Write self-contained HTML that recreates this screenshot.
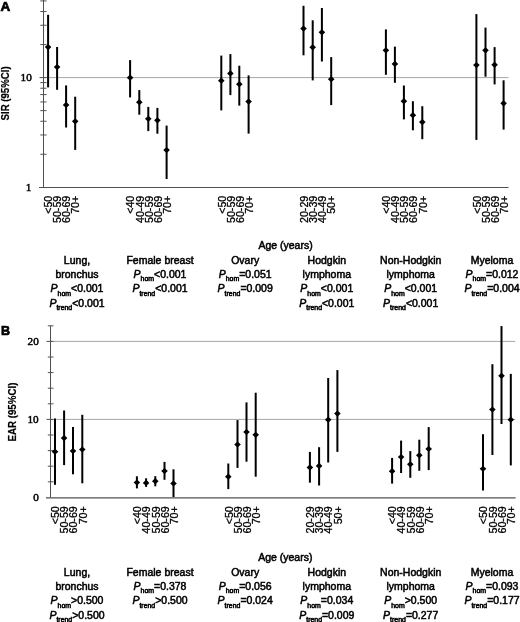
<!DOCTYPE html><html><head><meta charset="utf-8"><style>html,body{margin:0;padding:0;background:#fff;}svg{display:block;filter:blur(0.25px);}text{stroke:#000;stroke-width:0.5px;}</style></head><body>
<svg width="520" height="622" viewBox="0 0 520 622" font-family='"Liberation Sans", sans-serif' fill="#000">
<rect width="520" height="622" fill="#fff"/>
<line x1="44.0" y1="77.60" x2="508.5" y2="77.60" stroke="#a6a6a6" stroke-width="1"/>
<line x1="43.5" y1="0" x2="43.5" y2="187.5" stroke="#505050" stroke-width="1"/>
<line x1="39" y1="187.5" x2="508.5" y2="187.5" stroke="#505050" stroke-width="1"/>
<line x1="40.3" y1="154.28" x2="46.5" y2="154.28" stroke="#505050" stroke-width="1"/>
<line x1="40.3" y1="134.96" x2="46.5" y2="134.96" stroke="#505050" stroke-width="1"/>
<line x1="40.3" y1="121.25" x2="46.5" y2="121.25" stroke="#505050" stroke-width="1"/>
<line x1="40.3" y1="110.62" x2="46.5" y2="110.62" stroke="#505050" stroke-width="1"/>
<line x1="40.3" y1="101.94" x2="46.5" y2="101.94" stroke="#505050" stroke-width="1"/>
<line x1="40.3" y1="94.59" x2="46.5" y2="94.59" stroke="#505050" stroke-width="1"/>
<line x1="40.3" y1="88.23" x2="46.5" y2="88.23" stroke="#505050" stroke-width="1"/>
<line x1="40.3" y1="82.62" x2="46.5" y2="82.62" stroke="#505050" stroke-width="1"/>
<line x1="39.5" y1="77.60" x2="46.5" y2="77.60" stroke="#505050" stroke-width="1"/>
<line x1="40.3" y1="44.58" x2="46.5" y2="44.58" stroke="#505050" stroke-width="1"/>
<line x1="40.3" y1="25.26" x2="46.5" y2="25.26" stroke="#505050" stroke-width="1"/>
<line x1="40.3" y1="11.55" x2="46.5" y2="11.55" stroke="#505050" stroke-width="1"/>
<line x1="40.3" y1="0.92" x2="46.5" y2="0.92" stroke="#505050" stroke-width="1"/>
<text x="31.8" y="81.20" text-anchor="end" font-family='"Liberation Serif", serif' font-size="11.2">10</text>
<text x="31.3" y="191.10" text-anchor="end" font-family='"Liberation Serif", serif' font-size="11.2">1</text>
<text x="0.5" y="10.6" font-weight="bold" font-size="13.5" style="stroke-width:0.7px">A</text>
<text transform="translate(8.5 93.4) rotate(-90)" text-anchor="middle" font-weight="bold" font-size="10.4" textLength="54" lengthAdjust="spacingAndGlyphs" style="stroke-width:0.2px">SIR (95%CI)</text>
<rect x="47.10" y="14.80" width="2.0" height="72.60" fill="#000"/>
<path d="M44.80 47.10L48.10 44.00L51.40 47.10L48.10 50.20Z" fill="#000"/>
<rect x="56.10" y="47.00" width="2.0" height="42.80" fill="#000"/>
<path d="M53.80 67.10L57.10 64.00L60.40 67.10L57.10 70.20Z" fill="#000"/>
<rect x="65.10" y="85.40" width="2.0" height="42.10" fill="#000"/>
<path d="M62.80 104.90L66.10 101.80L69.40 104.90L66.10 108.00Z" fill="#000"/>
<rect x="74.20" y="96.70" width="2.0" height="53.20" fill="#000"/>
<path d="M71.90 121.30L75.20 118.20L78.50 121.30L75.20 124.40Z" fill="#000"/>
<rect x="129.10" y="60.10" width="2.0" height="37.30" fill="#000"/>
<path d="M126.80 77.70L130.10 74.60L133.40 77.70L130.10 80.80Z" fill="#000"/>
<rect x="138.30" y="90.10" width="2.0" height="24.60" fill="#000"/>
<path d="M136.00 102.20L139.30 99.10L142.60 102.20L139.30 105.30Z" fill="#000"/>
<rect x="147.30" y="106.90" width="2.0" height="24.20" fill="#000"/>
<path d="M145.00 118.80L148.30 115.70L151.60 118.80L148.30 121.90Z" fill="#000"/>
<rect x="156.40" y="107.90" width="2.0" height="25.80" fill="#000"/>
<path d="M154.10 120.30L157.40 117.20L160.70 120.30L157.40 123.40Z" fill="#000"/>
<rect x="165.60" y="125.60" width="2.0" height="53.40" fill="#000"/>
<path d="M163.30 150.10L166.60 147.00L169.90 150.10L166.60 153.20Z" fill="#000"/>
<rect x="220.30" y="55.60" width="2.0" height="54.80" fill="#000"/>
<path d="M218.00 80.70L221.30 77.60L224.60 80.70L221.30 83.80Z" fill="#000"/>
<rect x="229.40" y="54.10" width="2.0" height="41.00" fill="#000"/>
<path d="M227.10 73.40L230.40 70.30L233.70 73.40L230.40 76.50Z" fill="#000"/>
<rect x="238.30" y="65.70" width="2.0" height="39.90" fill="#000"/>
<path d="M236.00 84.20L239.30 81.10L242.60 84.20L239.30 87.30Z" fill="#000"/>
<rect x="247.60" y="75.40" width="2.0" height="58.20" fill="#000"/>
<path d="M245.30 101.60L248.60 98.50L251.90 101.60L248.60 104.70Z" fill="#000"/>
<rect x="302.50" y="5.80" width="2.0" height="49.50" fill="#000"/>
<path d="M300.20 28.60L303.50 25.50L306.80 28.60L303.50 31.70Z" fill="#000"/>
<rect x="311.70" y="20.30" width="2.0" height="60.10" fill="#000"/>
<path d="M309.40 47.30L312.70 44.20L316.00 47.30L312.70 50.40Z" fill="#000"/>
<rect x="320.90" y="8.00" width="2.0" height="53.50" fill="#000"/>
<path d="M318.60 32.30L321.90 29.20L325.20 32.30L321.90 35.40Z" fill="#000"/>
<rect x="330.20" y="57.10" width="2.0" height="48.00" fill="#000"/>
<path d="M327.90 79.20L331.20 76.10L334.50 79.20L331.20 82.30Z" fill="#000"/>
<rect x="384.90" y="29.40" width="2.0" height="45.40" fill="#000"/>
<path d="M382.60 50.30L385.90 47.20L389.20 50.30L385.90 53.40Z" fill="#000"/>
<rect x="393.90" y="46.60" width="2.0" height="36.20" fill="#000"/>
<path d="M391.60 63.90L394.90 60.80L398.20 63.90L394.90 67.00Z" fill="#000"/>
<rect x="402.90" y="85.50" width="2.0" height="33.90" fill="#000"/>
<path d="M400.60 101.20L403.90 98.10L407.20 101.20L403.90 104.30Z" fill="#000"/>
<rect x="411.90" y="101.20" width="2.0" height="29.10" fill="#000"/>
<path d="M409.60 115.20L412.90 112.10L416.20 115.20L412.90 118.30Z" fill="#000"/>
<rect x="421.30" y="106.20" width="2.0" height="33.00" fill="#000"/>
<path d="M419.00 122.10L422.30 119.00L425.60 122.10L422.30 125.20Z" fill="#000"/>
<rect x="475.40" y="14.10" width="2.0" height="125.80" fill="#000"/>
<path d="M473.10 65.10L476.40 62.00L479.70 65.10L476.40 68.20Z" fill="#000"/>
<rect x="484.50" y="27.60" width="2.0" height="49.10" fill="#000"/>
<path d="M482.20 50.30L485.50 47.20L488.80 50.30L485.50 53.40Z" fill="#000"/>
<rect x="493.60" y="47.10" width="2.0" height="37.30" fill="#000"/>
<path d="M491.30 64.80L494.60 61.70L497.90 64.80L494.60 67.90Z" fill="#000"/>
<rect x="502.60" y="80.30" width="2.0" height="49.30" fill="#000"/>
<path d="M500.30 103.30L503.60 100.20L506.90 103.30L503.60 106.40Z" fill="#000"/>
<text transform="translate(52.38 195.70) rotate(-90) scale(1 1.04)" text-anchor="end" font-size="10.7" style="stroke-width:0.3px">&lt;50</text>
<text transform="translate(61.38 195.70) rotate(-90) scale(1 1.04)" text-anchor="end" font-size="10.7" style="stroke-width:0.3px">50-59</text>
<text transform="translate(70.38 195.70) rotate(-90) scale(1 1.04)" text-anchor="end" font-size="10.7" style="stroke-width:0.3px">60-69</text>
<text transform="translate(79.48 195.70) rotate(-90) scale(1 1.04)" text-anchor="end" font-size="10.7" style="stroke-width:0.3px">70+</text>
<text transform="translate(134.38 195.70) rotate(-90) scale(1 1.04)" text-anchor="end" font-size="10.7" style="stroke-width:0.3px">&lt;40</text>
<text transform="translate(143.58 195.70) rotate(-90) scale(1 1.04)" text-anchor="end" font-size="10.7" style="stroke-width:0.3px">40-49</text>
<text transform="translate(152.58 195.70) rotate(-90) scale(1 1.04)" text-anchor="end" font-size="10.7" style="stroke-width:0.3px">50-59</text>
<text transform="translate(161.68 195.70) rotate(-90) scale(1 1.04)" text-anchor="end" font-size="10.7" style="stroke-width:0.3px">60-69</text>
<text transform="translate(170.88 195.70) rotate(-90) scale(1 1.04)" text-anchor="end" font-size="10.7" style="stroke-width:0.3px">70+</text>
<text transform="translate(225.58 195.70) rotate(-90) scale(1 1.04)" text-anchor="end" font-size="10.7" style="stroke-width:0.3px">&lt;50</text>
<text transform="translate(234.68 195.70) rotate(-90) scale(1 1.04)" text-anchor="end" font-size="10.7" style="stroke-width:0.3px">50-59</text>
<text transform="translate(243.58 195.70) rotate(-90) scale(1 1.04)" text-anchor="end" font-size="10.7" style="stroke-width:0.3px">60-69</text>
<text transform="translate(252.88 195.70) rotate(-90) scale(1 1.04)" text-anchor="end" font-size="10.7" style="stroke-width:0.3px">70+</text>
<text transform="translate(307.78 195.70) rotate(-90) scale(1 1.04)" text-anchor="end" font-size="10.7" style="stroke-width:0.3px">20-29</text>
<text transform="translate(316.98 195.70) rotate(-90) scale(1 1.04)" text-anchor="end" font-size="10.7" style="stroke-width:0.3px">30-39</text>
<text transform="translate(326.18 195.70) rotate(-90) scale(1 1.04)" text-anchor="end" font-size="10.7" style="stroke-width:0.3px">40-49</text>
<text transform="translate(335.48 195.70) rotate(-90) scale(1 1.04)" text-anchor="end" font-size="10.7" style="stroke-width:0.3px">50+</text>
<text transform="translate(390.18 195.70) rotate(-90) scale(1 1.04)" text-anchor="end" font-size="10.7" style="stroke-width:0.3px">&lt;40</text>
<text transform="translate(399.18 195.70) rotate(-90) scale(1 1.04)" text-anchor="end" font-size="10.7" style="stroke-width:0.3px">40-49</text>
<text transform="translate(408.18 195.70) rotate(-90) scale(1 1.04)" text-anchor="end" font-size="10.7" style="stroke-width:0.3px">50-59</text>
<text transform="translate(417.18 195.70) rotate(-90) scale(1 1.04)" text-anchor="end" font-size="10.7" style="stroke-width:0.3px">60-69</text>
<text transform="translate(426.58 195.70) rotate(-90) scale(1 1.04)" text-anchor="end" font-size="10.7" style="stroke-width:0.3px">70+</text>
<text transform="translate(480.68 195.70) rotate(-90) scale(1 1.04)" text-anchor="end" font-size="10.7" style="stroke-width:0.3px">&lt;50</text>
<text transform="translate(489.78 195.70) rotate(-90) scale(1 1.04)" text-anchor="end" font-size="10.7" style="stroke-width:0.3px">50-59</text>
<text transform="translate(498.88 195.70) rotate(-90) scale(1 1.04)" text-anchor="end" font-size="10.7" style="stroke-width:0.3px">60-69</text>
<text transform="translate(507.88 195.70) rotate(-90) scale(1 1.04)" text-anchor="end" font-size="10.7" style="stroke-width:0.3px">70+</text>
<text transform="translate(285.5 248.7) scale(1.05 1)" text-anchor="middle" font-size="10.0">Age (years)</text>
<text transform="translate(77.0 263.5) scale(1.05 1)" text-anchor="middle" font-size="10.0">Lung,</text>
<text transform="translate(77.0 277.7) scale(1.05 1)" text-anchor="middle" font-size="10.0">bronchus</text>
<text transform="translate(77.0 292.4) scale(1.05 1)" text-anchor="middle" font-size="10.0"><tspan font-style="italic">P</tspan><tspan font-size="6.6" dy="3.1">hom</tspan><tspan dy="-3.1">&lt;0.001</tspan></text>
<text transform="translate(77.0 306.7) scale(1.05 1)" text-anchor="middle" font-size="10.0"><tspan font-style="italic">P</tspan><tspan font-size="6.6" dy="3.1">trend</tspan><tspan dy="-3.1">&lt;0.001</tspan></text>
<text transform="translate(160.0 263.5) scale(1.05 1)" text-anchor="middle" font-size="10.0">Female breast</text>
<text transform="translate(160.0 277.7) scale(1.05 1)" text-anchor="middle" font-size="10.0"><tspan font-style="italic">P</tspan><tspan font-size="6.6" dy="3.1">hom</tspan><tspan dy="-3.1">&lt;0.001</tspan></text>
<text transform="translate(160.0 292.4) scale(1.05 1)" text-anchor="middle" font-size="10.0"><tspan font-style="italic">P</tspan><tspan font-size="6.6" dy="3.1">trend</tspan><tspan dy="-3.1">&lt;0.001</tspan></text>
<text transform="translate(245.2 263.5) scale(1.05 1)" text-anchor="middle" font-size="10.0">Ovary</text>
<text transform="translate(245.2 277.7) scale(1.05 1)" text-anchor="middle" font-size="10.0"><tspan font-style="italic">P</tspan><tspan font-size="6.6" dy="3.1">hom</tspan><tspan dy="-3.1">=0.051</tspan></text>
<text transform="translate(245.2 292.4) scale(1.05 1)" text-anchor="middle" font-size="10.0"><tspan font-style="italic">P</tspan><tspan font-size="6.6" dy="3.1">trend</tspan><tspan dy="-3.1">=0.009</tspan></text>
<text transform="translate(326.8 263.5) scale(1.05 1)" text-anchor="middle" font-size="10.0">Hodgkin</text>
<text transform="translate(326.8 277.7) scale(1.05 1)" text-anchor="middle" font-size="10.0">lymphoma</text>
<text transform="translate(326.8 292.4) scale(1.05 1)" text-anchor="middle" font-size="10.0"><tspan font-style="italic">P</tspan><tspan font-size="6.6" dy="3.1">hom</tspan><tspan dy="-3.1">&lt;0.001</tspan></text>
<text transform="translate(326.8 306.7) scale(1.05 1)" text-anchor="middle" font-size="10.0"><tspan font-style="italic">P</tspan><tspan font-size="6.6" dy="3.1">trend</tspan><tspan dy="-3.1">&lt;0.001</tspan></text>
<text transform="translate(410.7 263.5) scale(1.05 1)" text-anchor="middle" font-size="10.0">Non-Hodgkin</text>
<text transform="translate(410.7 277.7) scale(1.05 1)" text-anchor="middle" font-size="10.0">lymphoma</text>
<text transform="translate(410.7 292.4) scale(1.05 1)" text-anchor="middle" font-size="10.0"><tspan font-style="italic">P</tspan><tspan font-size="6.6" dy="3.1">hom</tspan><tspan dy="-3.1">&lt;0.001</tspan></text>
<text transform="translate(410.7 306.7) scale(1.05 1)" text-anchor="middle" font-size="10.0"><tspan font-style="italic">P</tspan><tspan font-size="6.6" dy="3.1">trend</tspan><tspan dy="-3.1">&lt;0.001</tspan></text>
<text transform="translate(492.0 263.5) scale(1.05 1)" text-anchor="middle" font-size="10.0">Myeloma</text>
<text transform="translate(492.0 277.7) scale(1.05 1)" text-anchor="middle" font-size="10.0"><tspan font-style="italic">P</tspan><tspan font-size="6.6" dy="3.1">hom</tspan><tspan dy="-3.1">=0.012</tspan></text>
<text transform="translate(492.0 292.4) scale(1.05 1)" text-anchor="middle" font-size="10.0"><tspan font-style="italic">P</tspan><tspan font-size="6.6" dy="3.1">trend</tspan><tspan dy="-3.1">=0.004</tspan></text>
<line x1="51.0" y1="419.40" x2="515.2" y2="419.40" stroke="#a6a6a6" stroke-width="1"/>
<line x1="51.0" y1="341.40" x2="515.2" y2="341.40" stroke="#a6a6a6" stroke-width="1"/>
<line x1="50.5" y1="325.80" x2="50.5" y2="497.5" stroke="#505050" stroke-width="1"/>
<line x1="46" y1="497.8" x2="515.6" y2="497.8" stroke="#505050" stroke-width="1.3"/>
<line x1="47.8" y1="481.80" x2="53.5" y2="481.80" stroke="#505050" stroke-width="1"/>
<line x1="47.8" y1="466.20" x2="53.5" y2="466.20" stroke="#505050" stroke-width="1"/>
<line x1="47.8" y1="450.60" x2="53.5" y2="450.60" stroke="#505050" stroke-width="1"/>
<line x1="47.8" y1="435.00" x2="53.5" y2="435.00" stroke="#505050" stroke-width="1"/>
<line x1="46.5" y1="419.40" x2="53.5" y2="419.40" stroke="#505050" stroke-width="1"/>
<line x1="47.8" y1="403.80" x2="53.5" y2="403.80" stroke="#505050" stroke-width="1"/>
<line x1="47.8" y1="388.20" x2="53.5" y2="388.20" stroke="#505050" stroke-width="1"/>
<line x1="47.8" y1="372.60" x2="53.5" y2="372.60" stroke="#505050" stroke-width="1"/>
<line x1="47.8" y1="357.00" x2="53.5" y2="357.00" stroke="#505050" stroke-width="1"/>
<line x1="46.5" y1="341.40" x2="53.5" y2="341.40" stroke="#505050" stroke-width="1"/>
<line x1="47.8" y1="325.80" x2="53.5" y2="325.80" stroke="#505050" stroke-width="1"/>
<text x="38.8" y="345.00" text-anchor="end" font-family='"Liberation Serif", serif' font-size="11.2">20</text>
<text x="38.6" y="423.00" text-anchor="end" font-family='"Liberation Serif", serif' font-size="11.2">10</text>
<text x="38.9" y="501.00" text-anchor="end" font-family='"Liberation Serif", serif' font-size="11.2">0</text>
<text x="0.9" y="334.8" font-weight="bold" font-size="12.5" style="stroke-width:0.7px">B</text>
<text transform="translate(15.6 412.1) rotate(-90)" text-anchor="middle" font-weight="bold" font-size="10.4" textLength="59" lengthAdjust="spacingAndGlyphs" style="stroke-width:0.2px">EAR (95%CI)</text>
<rect x="54.00" y="418.50" width="2.0" height="66.30" fill="#000"/>
<path d="M51.70 451.70L55.00 448.60L58.30 451.70L55.00 454.80Z" fill="#000"/>
<rect x="63.10" y="410.50" width="2.0" height="54.60" fill="#000"/>
<path d="M60.80 438.10L64.10 435.00L67.40 438.10L64.10 441.20Z" fill="#000"/>
<rect x="72.00" y="427.00" width="2.0" height="47.30" fill="#000"/>
<path d="M69.70 451.00L73.00 447.90L76.30 451.00L73.00 454.10Z" fill="#000"/>
<rect x="81.30" y="414.80" width="2.0" height="68.50" fill="#000"/>
<path d="M79.00 449.50L82.30 446.40L85.60 449.50L82.30 452.60Z" fill="#000"/>
<rect x="135.90" y="476.30" width="2.0" height="12.10" fill="#000"/>
<path d="M133.60 482.50L136.90 479.40L140.20 482.50L136.90 485.60Z" fill="#000"/>
<rect x="145.10" y="478.30" width="2.0" height="8.60" fill="#000"/>
<path d="M142.80 482.90L146.10 479.80L149.40 482.90L146.10 486.00Z" fill="#000"/>
<rect x="154.30" y="476.20" width="2.0" height="10.10" fill="#000"/>
<path d="M152.00 481.20L155.30 478.10L158.60 481.20L155.30 484.30Z" fill="#000"/>
<rect x="163.50" y="461.90" width="2.0" height="17.90" fill="#000"/>
<path d="M161.20 471.00L164.50 467.90L167.80 471.00L164.50 474.10Z" fill="#000"/>
<rect x="172.50" y="469.30" width="2.0" height="27.70" fill="#000"/>
<path d="M170.20 483.50L173.50 480.40L176.80 483.50L173.50 486.60Z" fill="#000"/>
<rect x="227.30" y="463.50" width="2.0" height="25.60" fill="#000"/>
<path d="M225.00 476.70L228.30 473.60L231.60 476.70L228.30 479.80Z" fill="#000"/>
<rect x="236.50" y="420.10" width="2.0" height="47.80" fill="#000"/>
<path d="M234.20 444.50L237.50 441.40L240.80 444.50L237.50 447.60Z" fill="#000"/>
<rect x="245.50" y="402.40" width="2.0" height="59.30" fill="#000"/>
<path d="M243.20 432.00L246.50 428.90L249.80 432.00L246.50 435.10Z" fill="#000"/>
<rect x="254.70" y="392.70" width="2.0" height="84.00" fill="#000"/>
<path d="M252.40 434.80L255.70 431.70L259.00 434.80L255.70 437.90Z" fill="#000"/>
<rect x="308.90" y="451.90" width="2.0" height="30.80" fill="#000"/>
<path d="M306.60 467.40L309.90 464.30L313.20 467.40L309.90 470.50Z" fill="#000"/>
<rect x="318.10" y="447.20" width="2.0" height="38.30" fill="#000"/>
<path d="M315.80 465.90L319.10 462.80L322.40 465.90L319.10 469.00Z" fill="#000"/>
<rect x="327.20" y="378.00" width="2.0" height="84.50" fill="#000"/>
<path d="M324.90 419.70L328.20 416.60L331.50 419.70L328.20 422.80Z" fill="#000"/>
<rect x="336.40" y="370.10" width="2.0" height="81.80" fill="#000"/>
<path d="M334.10 413.60L337.40 410.50L340.70 413.60L337.40 416.70Z" fill="#000"/>
<rect x="391.10" y="457.90" width="2.0" height="25.70" fill="#000"/>
<path d="M388.80 471.20L392.10 468.10L395.40 471.20L392.10 474.30Z" fill="#000"/>
<rect x="400.10" y="440.60" width="2.0" height="32.40" fill="#000"/>
<path d="M397.80 457.00L401.10 453.90L404.40 457.00L401.10 460.10Z" fill="#000"/>
<rect x="409.30" y="451.10" width="2.0" height="26.70" fill="#000"/>
<path d="M407.00 464.30L410.30 461.20L413.60 464.30L410.30 467.40Z" fill="#000"/>
<rect x="418.30" y="439.70" width="2.0" height="31.10" fill="#000"/>
<path d="M416.00 455.30L419.30 452.20L422.60 455.30L419.30 458.40Z" fill="#000"/>
<rect x="427.70" y="427.10" width="2.0" height="43.00" fill="#000"/>
<path d="M425.40 448.90L428.70 445.80L432.00 448.90L428.70 452.00Z" fill="#000"/>
<rect x="482.00" y="434.20" width="2.0" height="56.30" fill="#000"/>
<path d="M479.70 468.80L483.00 465.70L486.30 468.80L483.00 471.90Z" fill="#000"/>
<rect x="491.40" y="364.20" width="2.0" height="90.80" fill="#000"/>
<path d="M489.10 409.50L492.40 406.40L495.70 409.50L492.40 412.60Z" fill="#000"/>
<rect x="500.50" y="326.10" width="2.0" height="97.90" fill="#000"/>
<path d="M498.20 375.80L501.50 372.70L504.80 375.80L501.50 378.90Z" fill="#000"/>
<rect x="509.80" y="373.90" width="2.0" height="91.50" fill="#000"/>
<path d="M507.50 419.70L510.80 416.60L514.10 419.70L510.80 422.80Z" fill="#000"/>
<text transform="translate(59.28 506.20) rotate(-90) scale(1 1.04)" text-anchor="end" font-size="10.7" style="stroke-width:0.3px">&lt;50</text>
<text transform="translate(68.38 506.20) rotate(-90) scale(1 1.04)" text-anchor="end" font-size="10.7" style="stroke-width:0.3px">50-59</text>
<text transform="translate(77.28 506.20) rotate(-90) scale(1 1.04)" text-anchor="end" font-size="10.7" style="stroke-width:0.3px">60-69</text>
<text transform="translate(86.58 506.20) rotate(-90) scale(1 1.04)" text-anchor="end" font-size="10.7" style="stroke-width:0.3px">70+</text>
<text transform="translate(141.18 506.20) rotate(-90) scale(1 1.04)" text-anchor="end" font-size="10.7" style="stroke-width:0.3px">&lt;40</text>
<text transform="translate(150.38 506.20) rotate(-90) scale(1 1.04)" text-anchor="end" font-size="10.7" style="stroke-width:0.3px">40-49</text>
<text transform="translate(159.58 506.20) rotate(-90) scale(1 1.04)" text-anchor="end" font-size="10.7" style="stroke-width:0.3px">50-59</text>
<text transform="translate(168.78 506.20) rotate(-90) scale(1 1.04)" text-anchor="end" font-size="10.7" style="stroke-width:0.3px">60-69</text>
<text transform="translate(177.78 506.20) rotate(-90) scale(1 1.04)" text-anchor="end" font-size="10.7" style="stroke-width:0.3px">70+</text>
<text transform="translate(232.58 506.20) rotate(-90) scale(1 1.04)" text-anchor="end" font-size="10.7" style="stroke-width:0.3px">&lt;50</text>
<text transform="translate(241.78 506.20) rotate(-90) scale(1 1.04)" text-anchor="end" font-size="10.7" style="stroke-width:0.3px">50-59</text>
<text transform="translate(250.78 506.20) rotate(-90) scale(1 1.04)" text-anchor="end" font-size="10.7" style="stroke-width:0.3px">60-69</text>
<text transform="translate(259.98 506.20) rotate(-90) scale(1 1.04)" text-anchor="end" font-size="10.7" style="stroke-width:0.3px">70+</text>
<text transform="translate(314.18 506.20) rotate(-90) scale(1 1.04)" text-anchor="end" font-size="10.7" style="stroke-width:0.3px">20-29</text>
<text transform="translate(323.38 506.20) rotate(-90) scale(1 1.04)" text-anchor="end" font-size="10.7" style="stroke-width:0.3px">30-39</text>
<text transform="translate(332.48 506.20) rotate(-90) scale(1 1.04)" text-anchor="end" font-size="10.7" style="stroke-width:0.3px">40-49</text>
<text transform="translate(341.68 506.20) rotate(-90) scale(1 1.04)" text-anchor="end" font-size="10.7" style="stroke-width:0.3px">50+</text>
<text transform="translate(396.38 506.20) rotate(-90) scale(1 1.04)" text-anchor="end" font-size="10.7" style="stroke-width:0.3px">&lt;40</text>
<text transform="translate(405.38 506.20) rotate(-90) scale(1 1.04)" text-anchor="end" font-size="10.7" style="stroke-width:0.3px">40-49</text>
<text transform="translate(414.58 506.20) rotate(-90) scale(1 1.04)" text-anchor="end" font-size="10.7" style="stroke-width:0.3px">50-59</text>
<text transform="translate(423.58 506.20) rotate(-90) scale(1 1.04)" text-anchor="end" font-size="10.7" style="stroke-width:0.3px">60-69</text>
<text transform="translate(432.98 506.20) rotate(-90) scale(1 1.04)" text-anchor="end" font-size="10.7" style="stroke-width:0.3px">70+</text>
<text transform="translate(487.28 506.20) rotate(-90) scale(1 1.04)" text-anchor="end" font-size="10.7" style="stroke-width:0.3px">&lt;50</text>
<text transform="translate(496.68 506.20) rotate(-90) scale(1 1.04)" text-anchor="end" font-size="10.7" style="stroke-width:0.3px">50-59</text>
<text transform="translate(505.78 506.20) rotate(-90) scale(1 1.04)" text-anchor="end" font-size="10.7" style="stroke-width:0.3px">60-69</text>
<text transform="translate(515.08 506.20) rotate(-90) scale(1 1.04)" text-anchor="end" font-size="10.7" style="stroke-width:0.3px">70+</text>
<text transform="translate(285.3 560.5) scale(1.05 1)" text-anchor="middle" font-size="10.0">Age (years)</text>
<text transform="translate(77.0 575.7) scale(1.05 1)" text-anchor="middle" font-size="10.0">Lung,</text>
<text transform="translate(77.0 589.8) scale(1.05 1)" text-anchor="middle" font-size="10.0">bronchus</text>
<text transform="translate(77.0 604.4) scale(1.05 1)" text-anchor="middle" font-size="10.0"><tspan font-style="italic">P</tspan><tspan font-size="6.6" dy="3.1">hom</tspan><tspan dy="-3.1">&gt;0.500</tspan></text>
<text transform="translate(77.0 618.8) scale(1.05 1)" text-anchor="middle" font-size="10.0"><tspan font-style="italic">P</tspan><tspan font-size="6.6" dy="3.1">trend</tspan><tspan dy="-3.1">&gt;0.500</tspan></text>
<text transform="translate(160.0 575.7) scale(1.05 1)" text-anchor="middle" font-size="10.0">Female breast</text>
<text transform="translate(160.0 589.8) scale(1.05 1)" text-anchor="middle" font-size="10.0"><tspan font-style="italic">P</tspan><tspan font-size="6.6" dy="3.1">hom</tspan><tspan dy="-3.1">=0.378</tspan></text>
<text transform="translate(160.0 604.4) scale(1.05 1)" text-anchor="middle" font-size="10.0"><tspan font-style="italic">P</tspan><tspan font-size="6.6" dy="3.1">trend</tspan><tspan dy="-3.1">&gt;0.500</tspan></text>
<text transform="translate(245.2 575.7) scale(1.05 1)" text-anchor="middle" font-size="10.0">Ovary</text>
<text transform="translate(245.2 589.8) scale(1.05 1)" text-anchor="middle" font-size="10.0"><tspan font-style="italic">P</tspan><tspan font-size="6.6" dy="3.1">hom</tspan><tspan dy="-3.1">=0.056</tspan></text>
<text transform="translate(245.2 604.4) scale(1.05 1)" text-anchor="middle" font-size="10.0"><tspan font-style="italic">P</tspan><tspan font-size="6.6" dy="3.1">trend</tspan><tspan dy="-3.1">=0.024</tspan></text>
<text transform="translate(326.8 575.7) scale(1.05 1)" text-anchor="middle" font-size="10.0">Hodgkin</text>
<text transform="translate(326.8 589.8) scale(1.05 1)" text-anchor="middle" font-size="10.0">lymphoma</text>
<text transform="translate(326.8 604.4) scale(1.05 1)" text-anchor="middle" font-size="10.0"><tspan font-style="italic">P</tspan><tspan font-size="6.6" dy="3.1">hom</tspan><tspan dy="-3.1">=0.034</tspan></text>
<text transform="translate(326.8 618.8) scale(1.05 1)" text-anchor="middle" font-size="10.0"><tspan font-style="italic">P</tspan><tspan font-size="6.6" dy="3.1">trend</tspan><tspan dy="-3.1">=0.009</tspan></text>
<text transform="translate(410.7 575.7) scale(1.05 1)" text-anchor="middle" font-size="10.0">Non-Hodgkin</text>
<text transform="translate(410.7 589.8) scale(1.05 1)" text-anchor="middle" font-size="10.0">lymphoma</text>
<text transform="translate(410.7 604.4) scale(1.05 1)" text-anchor="middle" font-size="10.0"><tspan font-style="italic">P</tspan><tspan font-size="6.6" dy="3.1">hom</tspan><tspan dy="-3.1">&gt;0.500</tspan></text>
<text transform="translate(410.7 618.8) scale(1.05 1)" text-anchor="middle" font-size="10.0"><tspan font-style="italic">P</tspan><tspan font-size="6.6" dy="3.1">trend</tspan><tspan dy="-3.1">=0.277</tspan></text>
<text transform="translate(492.0 575.7) scale(1.05 1)" text-anchor="middle" font-size="10.0">Myeloma</text>
<text transform="translate(492.0 589.8) scale(1.05 1)" text-anchor="middle" font-size="10.0"><tspan font-style="italic">P</tspan><tspan font-size="6.6" dy="3.1">hom</tspan><tspan dy="-3.1">=0.093</tspan></text>
<text transform="translate(492.0 604.4) scale(1.05 1)" text-anchor="middle" font-size="10.0"><tspan font-style="italic">P</tspan><tspan font-size="6.6" dy="3.1">trend</tspan><tspan dy="-3.1">=0.177</tspan></text>
</svg></body></html>
